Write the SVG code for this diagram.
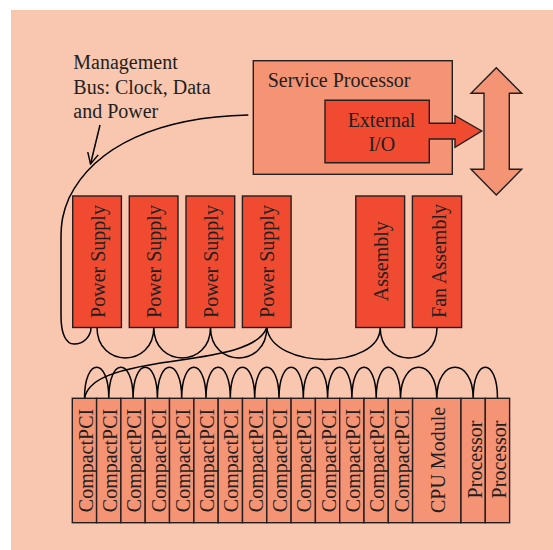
<svg xmlns="http://www.w3.org/2000/svg" width="553" height="550" viewBox="0 0 553 550">
  <style>
    .lbl { font-family: "Liberation Serif", "Times New Roman", serif; font-size: 20px; fill: #231f20; }
    .red { fill: #f04b30; stroke: #231f20; stroke-width: 1.4; }
    .sal { fill: #f59375; stroke: #231f20; stroke-width: 1.4; }
    .wire { fill: none; stroke: #000; stroke-width: 1.5; }
  </style>
  <defs>
    <marker id="openHead" viewBox="0 0 12 12" refX="11" refY="6" markerWidth="12" markerHeight="12" markerUnits="userSpaceOnUse" orient="auto">
      <path d="M0,0.5 L11,6 L0,11.5" fill="none" stroke="#000" stroke-width="1.4"/>
    </marker>
  </defs>

  <rect x="0" y="0" width="553" height="550" fill="#ffffff"/>
  <rect x="11" y="10" width="542" height="540" fill="#f9c6af"/>

  <!-- bus label -->
  <g id="bus-label">
    <text class="lbl" x="73.3" y="69.3">Management</text>
    <text class="lbl" x="73.3" y="94">Bus: Clock, Data</text>
    <text class="lbl" x="73.3" y="118.3">and Power</text>
  </g>

  <!-- connectors -->
  <g id="connectors">
    <!-- label pointer -->
    <path class="wire" d="M100,125 L90.5,164" marker-end="url(#openHead)"/>
    <!-- management bus from the service processor to the first supply -->
    <path class="wire" d="M248.3,115 C160,117 95,145 69,198 C63,212 61,222 61,238 L61,316 C61,334 66,344 74,344 C84,344 91,336 91,327.5"/>
    <!-- power bus along the top row -->
    <path class="wire" d="M97,327.5 C97,368 153.8,368 153.8,327.5 C153.8,368 210.5,368 210.5,327.5 C210.5,368 266.8,368 266.8,327.5"/>
    <path class="wire" d="M266.8,327.5 C272,370 380.2,370 380.2,327.5 C380.2,368 437,368 437,327.5"/>
    <!-- feed down to the card cage -->
    <path class="wire" d="M266.8,327.5 C258,352 205,356 155,364 C112,371 88,380 84.5,398.3"/>
    <!-- backplane bus across the cards -->
    <path class="wire" d="M84.5,398.3 C84.5,357 108.8,357 108.8,398.3 C108.8,357 133.1,357 133.1,398.3 C133.1,357 157.4,357 157.4,398.3 C157.4,357 181.7,357 181.7,398.3 C181.7,357 206,357 206,398.3 C206,357 230.3,357 230.3,398.3 C230.3,357 254.7,357 254.7,398.3 C254.7,357 279,357 279,398.3 C279,357 303.3,357 303.3,398.3 C303.3,357 327.6,357 327.6,398.3 C327.6,357 351.9,357 351.9,398.3 C351.9,357 376.2,357 376.2,398.3 C376.2,357 400.5,357 400.5,398.3 C400.5,357 436.8,357 436.8,398.3 C436.8,357 473.2,357 473.2,398.3 C473.2,357 497.5,357 497.5,398.3"/>
  </g>

  <!-- service processor -->
  <g id="service-processor">
    <rect class="sal" x="253.3" y="60.7" width="199" height="113.6"/>
    <text class="lbl" x="267.7" y="86.7">Service Processor</text>
  </g>

  <!-- external I/O with its outgoing arrow -->
  <g id="external-io">
    <polygon class="red" points="325,100.3 429.3,100.3 429.3,123.3 455,123.3 455,115.7 481.7,131 455,147.3 455,139 429.3,139 429.3,162.7 325,162.7"/>
    <text class="lbl" x="381.5" y="126.7" text-anchor="middle">External</text>
    <text class="lbl" x="381.8" y="151" text-anchor="middle">I/O</text>
  </g>

  <!-- bidirectional external link -->
  <g id="external-link">
    <polygon class="sal" points="496.3,67.7 521.7,93.3 509.3,93.3 509.3,169.3 521.7,169.3 496.3,195 471,169.3 484,169.3 484,93.3 471,93.3"/>
  </g>

  <!-- power supplies and fan units -->
  <g id="power-supply-1">
    <rect class="red" x="72.7" y="196" width="48.7" height="131.5"/>
    <text class="lbl" transform="translate(104.5,261.5) rotate(-90)" text-anchor="middle">Power Supply</text>
  </g>
  <g id="power-supply-2">
    <rect class="red" x="129.3" y="196" width="48.7" height="131.5"/>
    <text class="lbl" transform="translate(161.2,261.5) rotate(-90)" text-anchor="middle">Power Supply</text>
  </g>
  <g id="power-supply-3">
    <rect class="red" x="186" y="196" width="48.7" height="131.5"/>
    <text class="lbl" transform="translate(217.9,261.5) rotate(-90)" text-anchor="middle">Power Supply</text>
  </g>
  <g id="power-supply-4">
    <rect class="red" x="242.4" y="196" width="48.7" height="131.5"/>
    <text class="lbl" transform="translate(274.3,261.5) rotate(-90)" text-anchor="middle">Power Supply</text>
  </g>
  <g id="assembly">
    <rect class="red" x="355.8" y="196" width="48.8" height="131.5"/>
    <text class="lbl" transform="translate(388.3,261.2) rotate(-90)" text-anchor="middle">Assembly</text>
  </g>
  <g id="fan-assembly">
    <rect class="red" x="412.4" y="196" width="49.2" height="131.5"/>
    <text class="lbl" transform="translate(445.5,261) rotate(-90)" text-anchor="middle">Fan Assembly</text>
  </g>

  <!-- card cage -->
  <g id="cpci-1"><rect class="sal" x="72.3" y="398.3" width="24.3" height="124.4"/><text class="lbl" transform="translate(92.6,460.5) rotate(-90)" text-anchor="middle">CompactPCI</text></g>
  <g id="cpci-2"><rect class="sal" x="96.6" y="398.3" width="24.3" height="124.4"/><text class="lbl" transform="translate(116.9,460.5) rotate(-90)" text-anchor="middle">CompactPCI</text></g>
  <g id="cpci-3"><rect class="sal" x="120.9" y="398.3" width="24.3" height="124.4"/><text class="lbl" transform="translate(141.2,460.5) rotate(-90)" text-anchor="middle">CompactPCI</text></g>
  <g id="cpci-4"><rect class="sal" x="145.2" y="398.3" width="24.3" height="124.4"/><text class="lbl" transform="translate(165.5,460.5) rotate(-90)" text-anchor="middle">CompactPCI</text></g>
  <g id="cpci-5"><rect class="sal" x="169.5" y="398.3" width="24.3" height="124.4"/><text class="lbl" transform="translate(189.8,460.5) rotate(-90)" text-anchor="middle">CompactPCI</text></g>
  <g id="cpci-6"><rect class="sal" x="193.9" y="398.3" width="24.3" height="124.4"/><text class="lbl" transform="translate(214.1,460.5) rotate(-90)" text-anchor="middle">CompactPCI</text></g>
  <g id="cpci-7"><rect class="sal" x="218.2" y="398.3" width="24.3" height="124.4"/><text class="lbl" transform="translate(238.4,460.5) rotate(-90)" text-anchor="middle">CompactPCI</text></g>
  <g id="cpci-8"><rect class="sal" x="242.5" y="398.3" width="24.3" height="124.4"/><text class="lbl" transform="translate(262.8,460.5) rotate(-90)" text-anchor="middle">CompactPCI</text></g>
  <g id="cpci-9"><rect class="sal" x="266.8" y="398.3" width="24.3" height="124.4"/><text class="lbl" transform="translate(287.1,460.5) rotate(-90)" text-anchor="middle">CompactPCI</text></g>
  <g id="cpci-10"><rect class="sal" x="291.1" y="398.3" width="24.3" height="124.4"/><text class="lbl" transform="translate(311.4,460.5) rotate(-90)" text-anchor="middle">CompactPCI</text></g>
  <g id="cpci-11"><rect class="sal" x="315.4" y="398.3" width="24.3" height="124.4"/><text class="lbl" transform="translate(335.7,460.5) rotate(-90)" text-anchor="middle">CompactPCI</text></g>
  <g id="cpci-12"><rect class="sal" x="339.7" y="398.3" width="24.3" height="124.4"/><text class="lbl" transform="translate(360,460.5) rotate(-90)" text-anchor="middle">CompactPCI</text></g>
  <g id="cpci-13"><rect class="sal" x="364" y="398.3" width="24.3" height="124.4"/><text class="lbl" transform="translate(384.3,460.5) rotate(-90)" text-anchor="middle">CompactPCI</text></g>
  <g id="cpci-14"><rect class="sal" x="388.3" y="398.3" width="24.3" height="124.4"/><text class="lbl" transform="translate(408.6,460.5) rotate(-90)" text-anchor="middle">CompactPCI</text></g>
  <g id="cpu-module"><rect class="sal" x="412.6" y="398.3" width="48.4" height="124.4"/><text class="lbl" transform="translate(445,460) rotate(-90)" text-anchor="middle">CPU Module</text></g>
  <g id="processor-1"><rect class="sal" x="461" y="398.3" width="24.3" height="124.4"/><text class="lbl" transform="translate(481.5,459.5) rotate(-90)" text-anchor="middle">Processor</text></g>
  <g id="processor-2"><rect class="sal" x="485.3" y="398.3" width="24.3" height="124.4"/><text class="lbl" transform="translate(505.8,459.5) rotate(-90)" text-anchor="middle">Processor</text></g>
</svg>
